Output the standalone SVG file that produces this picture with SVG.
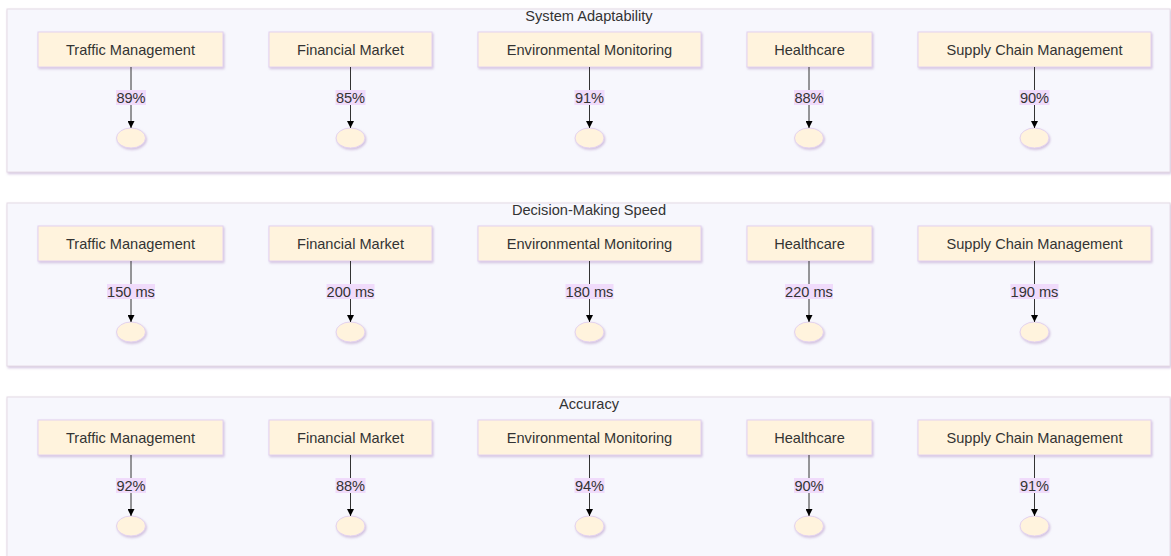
<svg xmlns="http://www.w3.org/2000/svg" width="1171" height="556" viewBox="0 0 1171 556">
<style>
.panel{fill:#f7f7fd;stroke:#e6dbe6;stroke-width:1}
.ptitle{font-family:"Liberation Sans",Arial,sans-serif;font-size:14.6px;fill:#333;text-anchor:middle}
.box{fill:#fff3dd;stroke:#e3d2ef;stroke-width:1}
.ntext{font-family:"Liberation Sans",Arial,sans-serif;font-size:14.6px;fill:#333;text-anchor:middle}
.dot{fill:#fff3dd;stroke:#e3d2ef;stroke-width:1}
.edge{stroke:#333;stroke-width:1;fill:none}
.lbg{fill:#f0dbfb}
.ltext{font-family:"Liberation Sans",Arial,sans-serif;font-size:14.6px;fill:#333;text-anchor:middle}
</style>
<defs>
<filter id="sh" x="-10%" y="-10%" width="130%" height="150%">
<feDropShadow dx="1" dy="1.5" stdDeviation="0.8" flood-color="#c8b4d8" flood-opacity="0.8"/>
</filter>
<marker id="arr" viewBox="0 0 10 10" refX="10" refY="5" markerWidth="7" markerHeight="7" orient="auto" markerUnits="userSpaceOnUse">
<path d="M0,0 L10,5 L0,10 z" fill="#000"/>
</marker>
</defs>

<!-- Panel 1 -->
<g id="panel-adaptability">
<rect class="panel" x="7" y="9" width="1163" height="163" filter="url(#sh)"/>
<text class="ptitle" x="589" y="21">System Adaptability</text>
</g>
<!-- Panel 2 -->
<g id="panel-speed">
<rect class="panel" x="7" y="203" width="1163" height="163" filter="url(#sh)"/>
<text class="ptitle" x="589" y="215">Decision-Making Speed</text>
</g>
<!-- Panel 3 -->
<g id="panel-accuracy">
<rect class="panel" x="7" y="397" width="1163" height="170" filter="url(#sh)"/>
<text class="ptitle" x="589" y="409">Accuracy</text>
</g>

<!-- Row 1 nodes -->
<g id="a-traffic"><rect class="box" x="38" y="32" width="185" height="35" filter="url(#sh)"/><text class="ntext" x="130.5" y="54.5">Traffic Management</text></g>
<g id="a-financial"><rect class="box" x="269" y="32" width="163" height="35" filter="url(#sh)"/><text class="ntext" x="350.5" y="54.5">Financial Market</text></g>
<g id="a-env"><rect class="box" x="478" y="32" width="223" height="35" filter="url(#sh)"/><text class="ntext" x="589.5" y="54.5">Environmental Monitoring</text></g>
<g id="a-health"><rect class="box" x="747" y="32" width="125" height="35" filter="url(#sh)"/><text class="ntext" x="809.5" y="54.5">Healthcare</text></g>
<g id="a-supply"><rect class="box" x="918" y="32" width="233" height="35" filter="url(#sh)"/><text class="ntext" x="1034.5" y="54.5">Supply Chain Management</text></g>
<g id="a-traffic-v"><ellipse class="dot" cx="131" cy="138" rx="14.5" ry="10" filter="url(#sh)"/></g>
<g id="a-financial-v"><ellipse class="dot" cx="350.5" cy="138" rx="14.5" ry="10" filter="url(#sh)"/></g>
<g id="a-env-v"><ellipse class="dot" cx="589.5" cy="138" rx="14.5" ry="10" filter="url(#sh)"/></g>
<g id="a-health-v"><ellipse class="dot" cx="809" cy="138" rx="14.5" ry="10" filter="url(#sh)"/></g>
<g id="a-supply-v"><ellipse class="dot" cx="1034.5" cy="138" rx="14.5" ry="10" filter="url(#sh)"/></g>

<!-- Row 2 nodes -->
<g id="s-traffic"><rect class="box" x="38" y="226" width="185" height="35" filter="url(#sh)"/><text class="ntext" x="130.5" y="248.5">Traffic Management</text></g>
<g id="s-financial"><rect class="box" x="269" y="226" width="163" height="35" filter="url(#sh)"/><text class="ntext" x="350.5" y="248.5">Financial Market</text></g>
<g id="s-env"><rect class="box" x="478" y="226" width="223" height="35" filter="url(#sh)"/><text class="ntext" x="589.5" y="248.5">Environmental Monitoring</text></g>
<g id="s-health"><rect class="box" x="747" y="226" width="125" height="35" filter="url(#sh)"/><text class="ntext" x="809.5" y="248.5">Healthcare</text></g>
<g id="s-supply"><rect class="box" x="918" y="226" width="233" height="35" filter="url(#sh)"/><text class="ntext" x="1034.5" y="248.5">Supply Chain Management</text></g>
<g id="s-traffic-v"><ellipse class="dot" cx="131" cy="332" rx="14.5" ry="10" filter="url(#sh)"/></g>
<g id="s-financial-v"><ellipse class="dot" cx="350.5" cy="332" rx="14.5" ry="10" filter="url(#sh)"/></g>
<g id="s-env-v"><ellipse class="dot" cx="589.5" cy="332" rx="14.5" ry="10" filter="url(#sh)"/></g>
<g id="s-health-v"><ellipse class="dot" cx="809" cy="332" rx="14.5" ry="10" filter="url(#sh)"/></g>
<g id="s-supply-v"><ellipse class="dot" cx="1034.5" cy="332" rx="14.5" ry="10" filter="url(#sh)"/></g>

<!-- Row 3 nodes -->
<g id="c-traffic"><rect class="box" x="38" y="420" width="185" height="35" filter="url(#sh)"/><text class="ntext" x="130.5" y="442.5">Traffic Management</text></g>
<g id="c-financial"><rect class="box" x="269" y="420" width="163" height="35" filter="url(#sh)"/><text class="ntext" x="350.5" y="442.5">Financial Market</text></g>
<g id="c-env"><rect class="box" x="478" y="420" width="223" height="35" filter="url(#sh)"/><text class="ntext" x="589.5" y="442.5">Environmental Monitoring</text></g>
<g id="c-health"><rect class="box" x="747" y="420" width="125" height="35" filter="url(#sh)"/><text class="ntext" x="809.5" y="442.5">Healthcare</text></g>
<g id="c-supply"><rect class="box" x="918" y="420" width="233" height="35" filter="url(#sh)"/><text class="ntext" x="1034.5" y="442.5">Supply Chain Management</text></g>
<g id="c-traffic-v"><ellipse class="dot" cx="131" cy="526" rx="14.5" ry="10" filter="url(#sh)"/></g>
<g id="c-financial-v"><ellipse class="dot" cx="350.5" cy="526" rx="14.5" ry="10" filter="url(#sh)"/></g>
<g id="c-env-v"><ellipse class="dot" cx="589.5" cy="526" rx="14.5" ry="10" filter="url(#sh)"/></g>
<g id="c-health-v"><ellipse class="dot" cx="809" cy="526" rx="14.5" ry="10" filter="url(#sh)"/></g>
<g id="c-supply-v"><ellipse class="dot" cx="1034.5" cy="526" rx="14.5" ry="10" filter="url(#sh)"/></g>

<!-- Connectors -->
<g id="connectors">
<line class="edge" x1="131" y1="67" x2="131" y2="128" marker-end="url(#arr)"/>
<line class="edge" x1="350.5" y1="67" x2="350.5" y2="128" marker-end="url(#arr)"/>
<line class="edge" x1="589.5" y1="67" x2="589.5" y2="128" marker-end="url(#arr)"/>
<line class="edge" x1="809" y1="67" x2="809" y2="128" marker-end="url(#arr)"/>
<line class="edge" x1="1034.5" y1="67" x2="1034.5" y2="128" marker-end="url(#arr)"/>
<line class="edge" x1="131" y1="261" x2="131" y2="322" marker-end="url(#arr)"/>
<line class="edge" x1="350.5" y1="261" x2="350.5" y2="322" marker-end="url(#arr)"/>
<line class="edge" x1="589.5" y1="261" x2="589.5" y2="322" marker-end="url(#arr)"/>
<line class="edge" x1="809" y1="261" x2="809" y2="322" marker-end="url(#arr)"/>
<line class="edge" x1="1034.5" y1="261" x2="1034.5" y2="322" marker-end="url(#arr)"/>
<line class="edge" x1="131" y1="455" x2="131" y2="516" marker-end="url(#arr)"/>
<line class="edge" x1="350.5" y1="455" x2="350.5" y2="516" marker-end="url(#arr)"/>
<line class="edge" x1="589.5" y1="455" x2="589.5" y2="516" marker-end="url(#arr)"/>
<line class="edge" x1="809" y1="455" x2="809" y2="516" marker-end="url(#arr)"/>
<line class="edge" x1="1034.5" y1="455" x2="1034.5" y2="516" marker-end="url(#arr)"/>

<rect class="lbg" x="116" y="90" width="30" height="15"/><text class="ltext" x="131" y="103">89%</text>
<rect class="lbg" x="335.5" y="90" width="30" height="15"/><text class="ltext" x="350.5" y="103">85%</text>
<rect class="lbg" x="574.5" y="90" width="30" height="15"/><text class="ltext" x="589.5" y="103">91%</text>
<rect class="lbg" x="794" y="90" width="30" height="15"/><text class="ltext" x="809" y="103">88%</text>
<rect class="lbg" x="1019.5" y="90" width="30" height="15"/><text class="ltext" x="1034.5" y="103">90%</text>

<rect class="lbg" x="107" y="284" width="48" height="15"/><text class="ltext" x="131" y="297">150 ms</text>
<rect class="lbg" x="326.5" y="284" width="48" height="15"/><text class="ltext" x="350.5" y="297">200 ms</text>
<rect class="lbg" x="565.5" y="284" width="48" height="15"/><text class="ltext" x="589.5" y="297">180 ms</text>
<rect class="lbg" x="785" y="284" width="48" height="15"/><text class="ltext" x="809" y="297">220 ms</text>
<rect class="lbg" x="1010.5" y="284" width="48" height="15"/><text class="ltext" x="1034.5" y="297">190 ms</text>

<rect class="lbg" x="116" y="478" width="30" height="15"/><text class="ltext" x="131" y="491">92%</text>
<rect class="lbg" x="335.5" y="478" width="30" height="15"/><text class="ltext" x="350.5" y="491">88%</text>
<rect class="lbg" x="574.5" y="478" width="30" height="15"/><text class="ltext" x="589.5" y="491">94%</text>
<rect class="lbg" x="794" y="478" width="30" height="15"/><text class="ltext" x="809" y="491">90%</text>
<rect class="lbg" x="1019.5" y="478" width="30" height="15"/><text class="ltext" x="1034.5" y="491">91%</text>
</g>
</svg>
